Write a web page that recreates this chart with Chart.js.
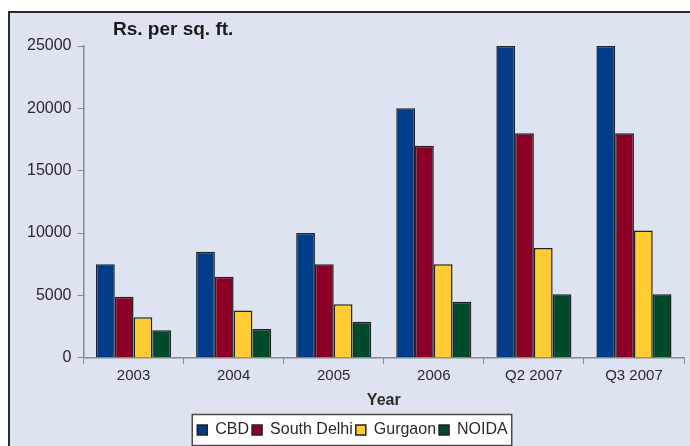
<!DOCTYPE html>
<html lang="en">
<head>
  <meta charset="UTF-8" />
  <title>Rs. per sq. ft. by Year</title>
  <script src="https://cdn.jsdelivr.net/npm/chart.js"></script>
  <style>
    html, body {
      margin: 0;
      padding: 0;
      background: #ffffff;
      overflow: hidden;
    }
    .wrap {
      position: relative;
      width: 690px;
      height: 446px;
    }
    /* framed panel, right and bottom edges run off the picture */
    .frame {
      position: absolute;
      left: 8px;
      top: 11px;
      width: 700px;
      height: 450px;
      background: #dde3f0;
      border-left: 2px solid #2b2b2b;
      border-top: 2px solid #2b2b2b;
    }
    canvas {
      position: absolute;
      left: 0;
      top: 0;
    }
  </style>
</head>
<body>
  <div class="wrap">
    <div class="frame"></div>
    <canvas id="grafica" width="690" height="446"></canvas>
  </div>

  <script>
    const years = ["2003", "2004", "2005", "2006", "Q2 2007", "Q3 2007"];
    const cbd = [7500, 8500, 10000, 20000, 25000, 25000];
    const southDelhi = [4900, 6500, 7500, 17000, 18000, 18000];
    const gurgaon = [3250, 3800, 4300, 7500, 8800, 10200];
    const noida = [2200, 2300, 2900, 4500, 5100, 5100];
    const yTicks = [0, 5000, 10000, 15000, 20000, 25000];

    const axisGray = "#8a8a8a";
    const textDark = "#2a2a2a";

    // title text sitting inside the plot, top left
    const unitLabel = {
      id: "unitLabel",
      afterDraw(chart) {
        const ctx = chart.ctx;
        ctx.save();
        ctx.font = "bold 19px 'Liberation Sans', Arial, sans-serif";
        ctx.fillStyle = "#1a1a1a";
        ctx.textBaseline = "alphabetic";
        ctx.textAlign = "left";
        ctx.fillText("Rs. per sq. ft.", 113, 35);
        ctx.restore();
      }
    };

    // white box with a border behind the legend items
    const legendBox = {
      id: "legendBox",
      beforeDraw(chart) {
        const boxes = chart.legend && chart.legend.legendHitBoxes;
        if (!boxes || !boxes.length) return;
        let l = Infinity, r = -Infinity, t = Infinity, b = -Infinity;
        boxes.forEach(h => {
          l = Math.min(l, h.left);
          r = Math.max(r, h.left + h.width);
          t = Math.min(t, h.top);
          b = Math.max(b, h.top + h.height);
        });
        const ctx = chart.ctx;
        ctx.save();
        ctx.fillStyle = "#ffffff";
        ctx.strokeStyle = "#4a4a4a";
        ctx.lineWidth = 1.5;
        ctx.beginPath();
        ctx.rect(l - 5, t - 7.5, r - l + 9, b - t + 15);
        ctx.fill();
        ctx.stroke();
        ctx.restore();
      }
    };

    function serie(label, data, color) {
      return {
        label,
        data,
        backgroundColor: color,
        borderColor: "#222222",
        borderWidth: 1.5,
        borderSkipped: "bottom",
        barPercentage: 1,
        categoryPercentage: 0.75
      };
    }

    new Chart(document.getElementById("grafica").getContext("2d"), {
      type: "bar",
      data: {
        labels: years,
        datasets: [
          serie("CBD", cbd, "#003c87"),
          serie("South Delhi", southDelhi, "#8c0028"),
          serie("Gurgaon", gurgaon, "#ffcc33"),
          serie("NOIDA", noida, "#00492a")
        ]
      },
      options: {
        responsive: false,
        animation: false,
        layout: {
          padding: { left: 21, right: 6, top: 46, bottom: -2 }
        },
        plugins: {
          legend: {
            position: "bottom",
            labels: {
              color: textDark,
              font: { size: 16, family: "'Liberation Sans', Arial, sans-serif" },
              boxWidth: 10,
              boxHeight: 10,
              padding: 3,
              useBorderRadius: false
            }
          },
          tooltip: { enabled: false },
          title: { display: false }
        },
        scales: {
          x: {
            offset: true,
            grid: {
              offset: true,
              drawOnChartArea: false,
              drawTicks: true,
              tickLength: 6,
              color: axisGray
            },
            border: { color: axisGray, width: 1.5 },
            ticks: {
              color: textDark,
              font: { size: 15, family: "'Liberation Sans', Arial, sans-serif" },
              padding: 3
            },
            title: {
              display: true,
              text: "Year",
              color: textDark,
              font: { size: 16, weight: "bold", family: "'Liberation Sans', Arial, sans-serif" },
              padding: { top: 3, bottom: 9 }
            }
          },
          y: {
            min: 0,
            max: 25000,
            afterBuildTicks(axis) {
              axis.ticks = yTicks.map(v => ({ value: v }));
            },
            grid: {
              drawOnChartArea: false,
              drawTicks: true,
              tickLength: 6,
              color: axisGray
            },
            border: { color: axisGray, width: 1.5 },
            ticks: {
              color: textDark,
              font: { size: 16, family: "'Liberation Sans', Arial, sans-serif" },
              padding: 6,
              callback: v => String(v)
            }
          }
        }
      },
      plugins: [legendBox, unitLabel]
    });
  </script>
</body>
</html>
